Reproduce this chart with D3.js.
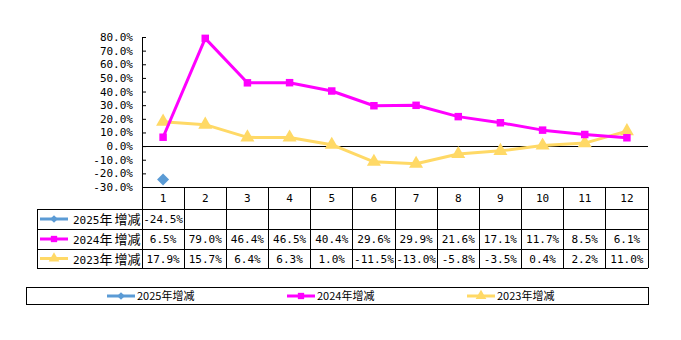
<!DOCTYPE html>
<html><head><meta charset="utf-8">
<script src="https://cdn.jsdelivr.net/npm/d3@7"></script>
<style>
html,body{margin:0;padding:0;background:#fff;}
svg{display:block;}
</style></head>
<body>
<svg id="c" width="681" height="340"></svg>
<script>
const categories = ["1","2","3","4","5","6","7","8","9","10","11","12"];
const values2025 = [-24.5, null, null, null, null, null, null, null, null, null, null, null];
const values2024 = [6.5, 79.0, 46.4, 46.5, 40.4, 29.6, 29.9, 21.6, 17.1, 11.7, 8.5, 6.1];
const values2023 = [17.9, 15.7, 6.4, 6.3, 1.0, -11.5, -13.0, -5.8, -3.5, 0.4, 2.2, 11.0];
const seriesYears = ["2025", "2024", "2023"];
const seriesSuffix = "年增减";
const yTickValues = [-30, -20, -10, 0, 10, 20, 30, 40, 50, 60, 70, 80];

const series = [
  {year: seriesYears[0], values: values2025, color: "#5B9BD5", symbol: d3.symbolSquare, rot: 45, size: 72, keySize: 30},
  {year: seriesYears[1], values: values2024, color: "#FF00FF", symbol: d3.symbolSquare, rot: 0, size: 56, keySize: 40},
  {year: seriesYears[2], values: values2023, color: "#FFD966", symbol: d3.symbolTriangle, rot: 0, size: 85, keySize: 50}
];

const svg = d3.select("#c");
const L = 142, R = 648, T = 37, B = 187;
const x = d3.scaleBand().domain(categories).range([L, R]).padding(0);
const y = d3.scaleLinear().domain([-30, 80]).range([B, T]);
const monoFont = "'DejaVu Sans Mono', 'Liberation Mono', monospace";
const cjkFont = "'Noto Sans CJK SC', sans-serif";
const fmt = v => v.toFixed(1) + "%";

// Y axis
const yAxis = d3.axisLeft(y).tickValues(yTickValues).tickSizeInner(-4).tickSizeOuter(0).tickPadding(9).tickFormat(fmt);
const ga = svg.append("g").attr("transform", `translate(${L},0)`).call(yAxis);
ga.select(".domain").attr("stroke", "#000").attr("stroke-width", 1);
ga.selectAll(".tick line").attr("stroke", "#000");
ga.selectAll(".tick text").attr("font-family", monoFont).attr("font-size", 11).attr("fill", "#000");

// zero line
svg.append("line").attr("x1", L).attr("x2", R).attr("y1", Math.round(y(0)) + 0.5).attr("y2", Math.round(y(0)) + 0.5)
  .attr("stroke", "#000").attr("stroke-width", 1);

// lines and markers (draw 2023 first, then 2024, then 2025)
const line = d3.line().defined(d => d.v != null).x(d => x(d.c) + x.bandwidth() / 2).y(d => y(d.v));
[series[2], series[1], series[0]].forEach(s => {
  const pts = categories.map((c, i) => ({c, v: s.values[i]}));
  svg.append("path").datum(pts).attr("d", line).attr("fill", "none")
    .attr("stroke", s.color).attr("stroke-width", 3).attr("stroke-linejoin", "round");
  svg.selectAll(null).data(pts.filter(d => d.v != null)).enter().append("path")
    .attr("d", d3.symbol().type(s.symbol).size(s.size))
    .attr("transform", d => `translate(${x(d.c) + x.bandwidth() / 2},${y(d.v)}) rotate(${s.rot})`)
    .attr("fill", s.color);
});

// Table
const TL = 37;
const rowY = [187, 209, 229, 249, 268];
const tg = svg.append("g").attr("stroke", "#000").attr("stroke-width", 1).attr("shape-rendering", "crispEdges");
tg.append("line").attr("x1", L).attr("x2", R).attr("y1", rowY[0]).attr("y2", rowY[0]);
for (let k = 1; k < rowY.length; k++) {
  tg.append("line").attr("x1", TL).attr("x2", R).attr("y1", rowY[k]).attr("y2", rowY[k]);
}
tg.append("line").attr("x1", TL).attr("x2", TL).attr("y1", rowY[1]).attr("y2", rowY[4]);
categories.forEach(c => {
  tg.append("line").attr("x1", x(c)).attr("x2", x(c)).attr("y1", rowY[0]).attr("y2", rowY[4]);
});
tg.append("line").attr("x1", R).attr("x2", R).attr("y1", rowY[0]).attr("y2", rowY[4]);

// header labels
svg.selectAll(null).data(categories).enter().append("text")
  .attr("x", d => x(d) + x.bandwidth() / 2).attr("y", (rowY[0] + rowY[1]) / 2 + 4)
  .attr("text-anchor", "middle").attr("font-family", monoFont).attr("font-size", 11).text(d => d);

// rows
series.forEach((s, si) => {
  const yc = (rowY[si + 1] + rowY[si + 2]) / 2;
  svg.append("line").attr("x1", 40).attr("x2", 68).attr("y1", yc).attr("y2", yc).attr("stroke", s.color).attr("stroke-width", 3);
  svg.append("path").attr("d", d3.symbol().type(s.symbol).size(s.keySize)())
    .attr("transform", `translate(54,${yc}) rotate(${s.rot})`).attr("fill", s.color);
  const t = svg.append("text").attr("x", 73).attr("y", yc + 5);
  t.append("tspan").attr("font-family", monoFont).attr("font-size", 11).text(s.year);
  t.append("tspan").attr("font-family", cjkFont).attr("font-size", 13).text("年");
  t.append("tspan").attr("font-family", cjkFont).attr("font-size", 13).attr("dx", 2).text("增减");
  svg.selectAll(null).data(categories.map((c, i) => ({c, v: s.values[i]})).filter(d => d.v != null)).enter().append("text")
    .attr("x", d => x(d.c) + x.bandwidth() / 2).attr("y", yc + 4)
    .attr("text-anchor", "middle").attr("font-family", monoFont).attr("font-size", 11)
    .text(d => fmt(d.v));
});

// Legend
svg.append("rect").attr("x", 26.5).attr("y", 287.5).attr("width", 622).attr("height", 17)
  .attr("fill", "none").attr("stroke", "#000").attr("stroke-width", 1);
const legX = [107, 287, 467];
series.forEach((s, i) => {
  const lx = legX[i], ly = 296;
  svg.append("line").attr("x1", lx).attr("x2", lx + 28).attr("y1", ly).attr("y2", ly).attr("stroke", s.color).attr("stroke-width", 3);
  svg.append("path").attr("d", d3.symbol().type(s.symbol).size(s.keySize)())
    .attr("transform", `translate(${lx + 14},${ly}) rotate(${s.rot})`).attr("fill", s.color);
  svg.append("text").attr("x", lx + 30).attr("y", ly + 4).attr("font-family", cjkFont).attr("font-size", 11)
    .text(s.year + seriesSuffix);
});
</script>
</body></html>
